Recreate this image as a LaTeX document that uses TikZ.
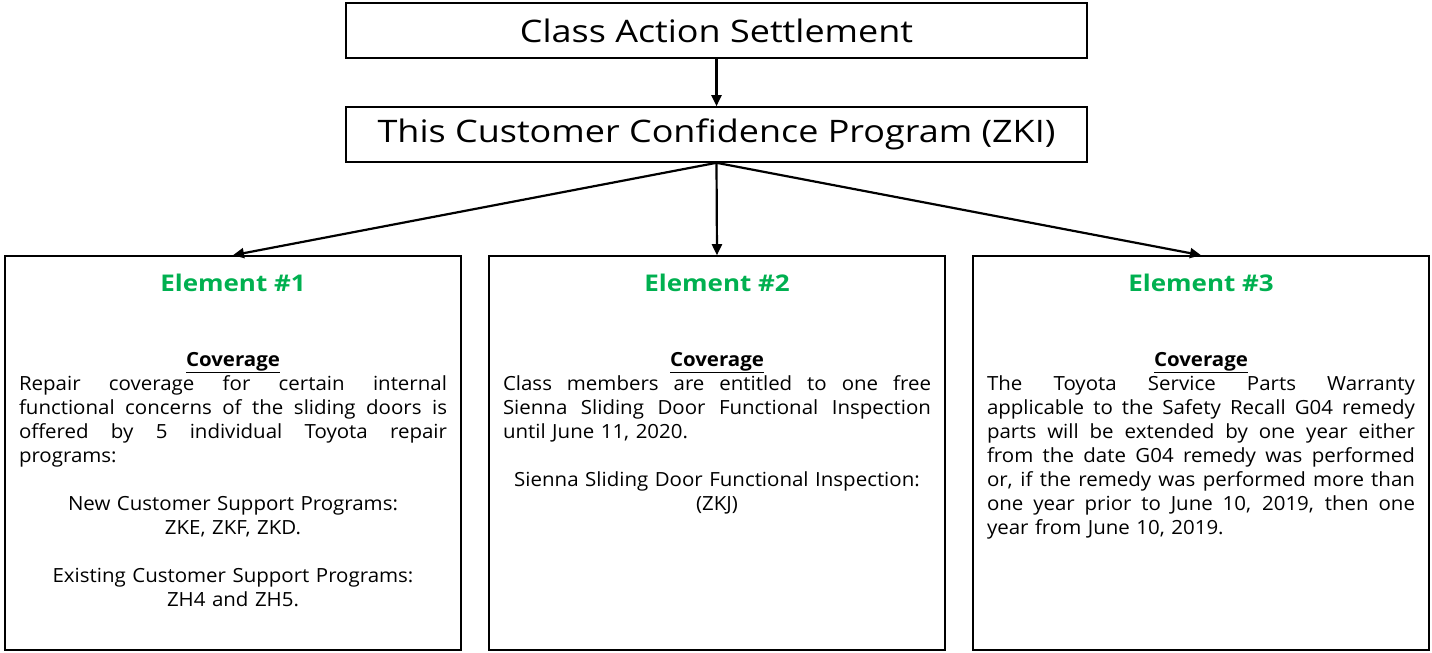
\documentclass[tikz,border=0pt]{standalone}
\usepackage{fontspec}
\setmainfont{Open Sans}[FakeStretch=1.05]
\newfontfamily\headfont{Open Sans}[FakeStretch=1.16]
\newfontfamily\elemfont{Open Sans}[FakeStretch=1.13]
\usetikzlibrary{arrows.meta}
\definecolor{elgreen}{RGB}{0,176,80}
\newcommand{\jline}[1]{\leavevmode\hbox to 428pt{\spaceskip=0.28em plus 1fil\relax #1}}
\newcommand{\lline}[1]{\leavevmode\makebox[428pt][l]{#1}}
\begin{document}
\begin{tikzpicture}[x=1pt,y=-1pt,
  hbox/.style={draw,line width=1.6pt,inner sep=0pt,minimum width=741pt,minimum height=55pt,font=\headfont\fontsize{31}{36}\selectfont},
  ebox/.style={draw,line width=1.6pt,inner sep=0pt,minimum width=456pt,minimum height=394pt},
  etitle/.style={anchor=base,inner sep=0pt,text=elgreen,font=\elemfont\fontsize{23}{28}\selectfont\bfseries},
  ebody/.style={anchor=north,inner sep=0pt,text width=428pt,align=center,font=\fontsize{19.5}{24}\selectfont},
  arr/.style={line width=2.2pt,-{Triangle[length=11pt,width=10pt]}}]
\useasboundingbox (0,0) rectangle (1432,653);
\node[hbox] (top) at (716.5,30.5) {Class Action Settlement};
\node[hbox] (prog) at (716.5,134.5) {This Customer Confidence Program (ZKI)};
\draw[arr] (top.south) -- (prog.north);
\node[ebox] (e1) at (233,453) {};
\node[ebox] (e2) at (717,453) {};
\node[ebox] (e3) at (1201,453) {};
\draw[arr] (prog.south) -- (e1.north);
\draw[arr] (prog.south) -- (e2.north);
\draw[arr] (prog.south) -- (e3.north);
\node[etitle] (t1) at ([yshift=-36pt]e1.north) {Element \#1};
\node[etitle] (t2) at ([yshift=-36pt]e2.north) {Element \#2};
\node[etitle] (t3) at ([yshift=-36pt]e3.north) {Element \#3};
\node[ebody] (b1) at ([yshift=-97pt]e1.north) {%
\textbf{\underline{Coverage}}\\
\jline{Repair coverage for certain internal}\\
\jline{functional concerns of the sliding doors is}\\
\jline{offered by 5 individual Toyota repair}\\
\lline{programs:}\\
\mbox{}\\
New Customer Support Programs:\\
ZKE, ZKF, ZKD.\\
\mbox{}\\
Existing Customer Support Programs:\\
ZH4 and ZH5.};
\node[ebody] (b2) at ([yshift=-97pt]e2.north) {%
\textbf{\underline{Coverage}}\\
\jline{Class members are entitled to one free}\\
\jline{Sienna Sliding Door Functional Inspection}\\
\lline{until June 11, 2020.}\\
\mbox{}\\
Sienna Sliding Door Functional Inspection:\\
(ZKJ)};
\node[ebody] (b3) at ([yshift=-97pt]e3.north) {%
\textbf{\underline{Coverage}}\\
\jline{The Toyota Service Parts Warranty}\\
\jline{applicable to the Safety Recall G04 remedy}\\
\jline{parts will be extended by one year either}\\
\jline{from the date G04 remedy was performed}\\
\jline{or, if the remedy was performed more than}\\
\jline{one year prior to June 10, 2019, then one}\\
\lline{year from June 10, 2019.}};
\end{tikzpicture}
\end{document}
